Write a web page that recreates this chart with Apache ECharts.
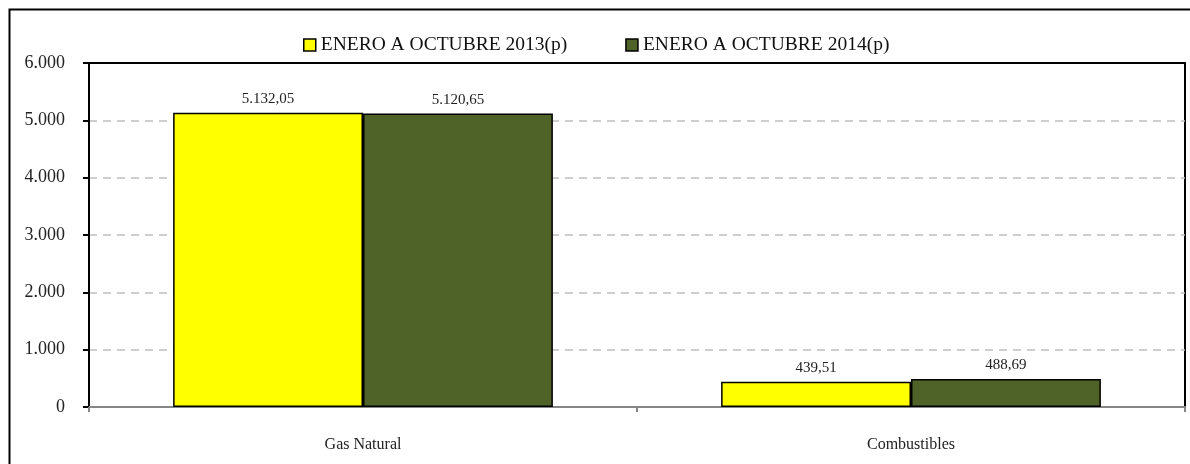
<!DOCTYPE html>
<html>
<head>
<meta charset="utf-8">
<script src="https://cdn.jsdelivr.net/npm/echarts@6/dist/echarts.min.js"></script>
<style>
  html, body { margin: 0; padding: 0; background: #fff; }
  #chart { width: 1190px; height: 464px; }
</style>
</head>
<body>
<div id="chart"></div>
<script>
// Data
const categories = ['Gas Natural', 'Combustibles'];
const seriesNames = ['ENERO A OCTUBRE 2013(p)', 'ENERO A OCTUBRE 2014(p)'];
const values2013 = [5132.05, 439.51];
const values2014 = [5120.65, 488.69];

const colors = { y2013: '#FFFF00', y2014: '#4F6228', ink: '#000', grid: '#BFBFBF', axis: '#868686' };
const serif = '"Liberation Serif", "DejaVu Serif", serif';

// Spanish number formatting: 5.132,05
function fmt(v, decimals) {
  const parts = v.toFixed(decimals).split('.');
  parts[0] = parts[0].replace(/\B(?=(\d{3})+(?!\d))/g, '.');
  return decimals > 0 ? parts[0] + ',' + parts[1] : parts[0];
}

const chart = echarts.init(document.getElementById('chart'), null, { renderer: 'canvas' });

function barSeries(name, data, color) {
  return {
    name, type: 'bar', data,
    barGap: '0%', barCategoryGap: '30.7%',
    itemStyle: { color, borderColor: colors.ink, borderWidth: 1.5 },
    label: {
      show: true, position: 'top', distance: 6,
      color: '#222', fontFamily: serif, fontSize: 15,
      formatter: (p) => fmt(p.value, 2),
    },
  };
}

chart.setOption({
  animation: false,
  backgroundColor: '#fff',
  textStyle: { fontFamily: serif },
  graphic: [{
    type: 'rect', left: 7, top: 7, silent: true,
    shape: { width: 1195, height: 480 },
    style: { fill: 'none', stroke: '#000', lineWidth: 2 },
  }],
  legend: {
    top: 30, left: 298, itemGap: 58,
    itemWidth: 12, itemHeight: 12, icon: 'rect',
    textStyle: { fontFamily: serif, fontSize: 19.5, color: '#111' },
    data: seriesNames.map((n) => ({
      name: n,
      itemStyle: { borderColor: '#000', borderWidth: 1.5 },
    })),
  },
  grid: {
    left: 89, right: 5, top: 63, bottom: 57,
    show: true, borderColor: '#000', borderWidth: 2, backgroundColor: 'transparent',
  },
  xAxis: {
    type: 'category', data: categories,
    axisLine: { lineStyle: { color: colors.axis, width: 2 } },
    axisTick: { show: true, length: 5, lineStyle: { color: colors.axis, width: 2 } },
    axisLabel: { color: '#222', fontFamily: serif, fontSize: 16, margin: 30 },
  },
  yAxis: {
    type: 'value', min: 0, max: 6000, interval: 1000,
    axisLine: { show: true, lineStyle: { color: '#000', width: 2 } },
    axisTick: { show: true, length: 6, lineStyle: { color: '#000', width: 2 } },
    axisLabel: { color: '#222', fontFamily: serif, fontSize: 18, margin: 24, formatter: (v) => fmt(v, 0) },
    splitLine: {
      show: true, showMinLine: false, showMaxLine: false,
      lineStyle: { color: colors.grid, type: [8, 6], width: 1.5 },
    },
  },
  series: [
    barSeries(seriesNames[0], values2013, colors.y2013),
    barSeries(seriesNames[1], values2014, colors.y2014),
  ],
});
</script>
</body>
</html>
